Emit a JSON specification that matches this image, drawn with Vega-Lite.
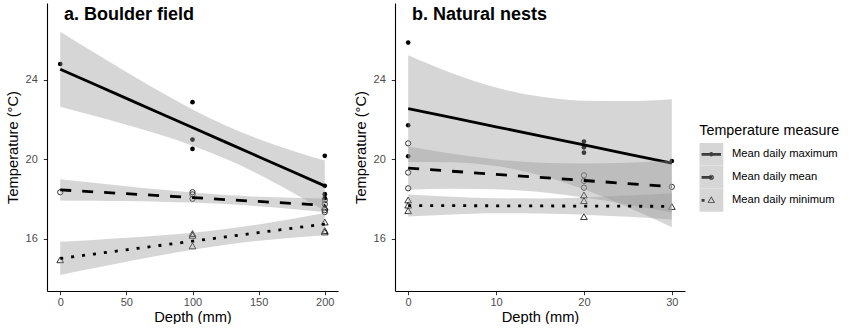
{
  "$schema": "https://vega.github.io/schema/vega-lite/v6.json",
  "padding": {"left": 5, "top": 3, "right": 165, "bottom": 0},
  "spacing": 15,
  "config": {
    "view": {"stroke": null},
    "font": "Liberation Sans",
    "axis": {"grid": false, "domainColor": "black", "domainWidth": 1.1, "tickColor": "#333333", "tickWidth": 1, "tickSize": 3.7, "labelColor": "#4d4d4d", "labelFont": "Liberation Sans", "labelFontSize": 11, "titleFont": "Liberation Sans", "titleFontSize": 14.7, "titleFontWeight": "normal", "titleColor": "black"},
    "axisX": {"labelPadding": 1.5, "titlePadding": 2},
    "axisY": {"labelPadding": 6, "titlePadding": 5},
    "title": {"font": "Liberation Sans", "fontSize": 18, "fontWeight": "bold", "anchor": "start", "frame": "group", "offset": -20.5, "baseline": "alphabetic", "dx": 17, "color": "black"}
  },
  "datasets": {
    "points": [
      {"panel": "a", "measure": "Mean daily maximum", "depth": 0, "temp": 24.8},
      {"panel": "a", "measure": "Mean daily maximum", "depth": 100, "temp": 22.88},
      {"panel": "a", "measure": "Mean daily maximum", "depth": 100, "temp": 21.0},
      {"panel": "a", "measure": "Mean daily maximum", "depth": 100, "temp": 20.53},
      {"panel": "a", "measure": "Mean daily maximum", "depth": 200, "temp": 20.18},
      {"panel": "a", "measure": "Mean daily maximum", "depth": 200, "temp": 18.67},
      {"panel": "a", "measure": "Mean daily maximum", "depth": 200, "temp": 18.25},
      {"panel": "a", "measure": "Mean daily maximum", "depth": 200, "temp": 18.05},
      {"panel": "a", "measure": "Mean daily mean", "depth": 0, "temp": 18.35},
      {"panel": "a", "measure": "Mean daily mean", "depth": 100, "temp": 18.35},
      {"panel": "a", "measure": "Mean daily mean", "depth": 100, "temp": 18.24},
      {"panel": "a", "measure": "Mean daily mean", "depth": 100, "temp": 18.02},
      {"panel": "a", "measure": "Mean daily mean", "depth": 200, "temp": 17.95},
      {"panel": "a", "measure": "Mean daily mean", "depth": 200, "temp": 17.75},
      {"panel": "a", "measure": "Mean daily mean", "depth": 200, "temp": 17.45},
      {"panel": "a", "measure": "Mean daily mean", "depth": 200, "temp": 17.35},
      {"panel": "a", "measure": "Mean daily minimum", "depth": 0, "temp": 14.95},
      {"panel": "a", "measure": "Mean daily minimum", "depth": 100, "temp": 16.27},
      {"panel": "a", "measure": "Mean daily minimum", "depth": 100, "temp": 16.18},
      {"panel": "a", "measure": "Mean daily minimum", "depth": 100, "temp": 15.65},
      {"panel": "a", "measure": "Mean daily minimum", "depth": 200, "temp": 17.6},
      {"panel": "a", "measure": "Mean daily minimum", "depth": 200, "temp": 16.85},
      {"panel": "a", "measure": "Mean daily minimum", "depth": 200, "temp": 16.42},
      {"panel": "a", "measure": "Mean daily minimum", "depth": 200, "temp": 16.35},
      {"panel": "b", "measure": "Mean daily maximum", "depth": 0, "temp": 25.88},
      {"panel": "b", "measure": "Mean daily maximum", "depth": 0, "temp": 21.72},
      {"panel": "b", "measure": "Mean daily maximum", "depth": 0, "temp": 20.16},
      {"panel": "b", "measure": "Mean daily maximum", "depth": 20, "temp": 20.9},
      {"panel": "b", "measure": "Mean daily maximum", "depth": 20, "temp": 20.61},
      {"panel": "b", "measure": "Mean daily maximum", "depth": 20, "temp": 20.34},
      {"panel": "b", "measure": "Mean daily maximum", "depth": 30, "temp": 19.92},
      {"panel": "b", "measure": "Mean daily mean", "depth": 0, "temp": 20.81},
      {"panel": "b", "measure": "Mean daily mean", "depth": 0, "temp": 19.34},
      {"panel": "b", "measure": "Mean daily mean", "depth": 0, "temp": 18.55},
      {"panel": "b", "measure": "Mean daily mean", "depth": 20, "temp": 19.2},
      {"panel": "b", "measure": "Mean daily mean", "depth": 20, "temp": 18.92},
      {"panel": "b", "measure": "Mean daily mean", "depth": 20, "temp": 18.58},
      {"panel": "b", "measure": "Mean daily mean", "depth": 30, "temp": 18.62},
      {"panel": "b", "measure": "Mean daily minimum", "depth": 0, "temp": 17.96},
      {"panel": "b", "measure": "Mean daily minimum", "depth": 0, "temp": 17.7},
      {"panel": "b", "measure": "Mean daily minimum", "depth": 0, "temp": 17.42},
      {"panel": "b", "measure": "Mean daily minimum", "depth": 20, "temp": 18.21},
      {"panel": "b", "measure": "Mean daily minimum", "depth": 20, "temp": 17.93},
      {"panel": "b", "measure": "Mean daily minimum", "depth": 20, "temp": 17.12},
      {"panel": "b", "measure": "Mean daily minimum", "depth": 30, "temp": 17.63}
    ],
    "bands": [
      {"panel": "a", "measure": "Mean daily maximum", "key": "max", "depth": 0, "lo": 22.655, "hi": 26.425, "fit": 24.54},
      {"panel": "a", "measure": "Mean daily maximum", "key": "max", "depth": 25, "lo": 22.211, "hi": 25.401, "fit": 23.806},
      {"panel": "a", "measure": "Mean daily maximum", "key": "max", "depth": 50, "lo": 21.748, "hi": 24.398, "fit": 23.073},
      {"panel": "a", "measure": "Mean daily maximum", "key": "max", "depth": 75, "lo": 21.251, "hi": 23.427, "fit": 22.339},
      {"panel": "a", "measure": "Mean daily maximum", "key": "max", "depth": 100, "lo": 20.693, "hi": 22.517, "fit": 21.605},
      {"panel": "a", "measure": "Mean daily maximum", "key": "max", "depth": 125, "lo": 20.035, "hi": 21.707, "fit": 20.871},
      {"panel": "a", "measure": "Mean daily maximum", "key": "max", "depth": 150, "lo": 19.252, "hi": 21.024, "fit": 20.138},
      {"panel": "a", "measure": "Mean daily maximum", "key": "max", "depth": 175, "lo": 18.36, "hi": 20.448, "fit": 19.404},
      {"panel": "a", "measure": "Mean daily maximum", "key": "max", "depth": 200, "lo": 17.4, "hi": 19.94, "fit": 18.67},
      {"panel": "a", "measure": "Mean daily mean", "key": "mean", "depth": 0, "lo": 17.935, "hi": 19.005, "fit": 18.47},
      {"panel": "a", "measure": "Mean daily mean", "key": "mean", "depth": 25, "lo": 17.918, "hi": 18.822, "fit": 18.37},
      {"panel": "a", "measure": "Mean daily mean", "key": "mean", "depth": 50, "lo": 17.902, "hi": 18.648, "fit": 18.275},
      {"panel": "a", "measure": "Mean daily mean", "key": "mean", "depth": 75, "lo": 17.876, "hi": 18.484, "fit": 18.18},
      {"panel": "a", "measure": "Mean daily mean", "key": "mean", "depth": 100, "lo": 17.83, "hi": 18.33, "fit": 18.08},
      {"panel": "a", "measure": "Mean daily mean", "key": "mean", "depth": 125, "lo": 17.756, "hi": 18.204, "fit": 17.98},
      {"panel": "a", "measure": "Mean daily mean", "key": "mean", "depth": 150, "lo": 17.649, "hi": 18.121, "fit": 17.885},
      {"panel": "a", "measure": "Mean daily mean", "key": "mean", "depth": 175, "lo": 17.511, "hi": 18.069, "fit": 17.79},
      {"panel": "a", "measure": "Mean daily mean", "key": "mean", "depth": 200, "lo": 17.346, "hi": 18.034, "fit": 17.69},
      {"panel": "a", "measure": "Mean daily minimum", "key": "min", "depth": 0, "lo": 14.185, "hi": 15.855, "fit": 15.02},
      {"panel": "a", "measure": "Mean daily minimum", "key": "min", "depth": 25, "lo": 14.523, "hi": 15.949, "fit": 15.236},
      {"panel": "a", "measure": "Mean daily minimum", "key": "min", "depth": 50, "lo": 14.852, "hi": 16.054, "fit": 15.453},
      {"panel": "a", "measure": "Mean daily minimum", "key": "min", "depth": 75, "lo": 15.166, "hi": 16.172, "fit": 15.669},
      {"panel": "a", "measure": "Mean daily minimum", "key": "min", "depth": 100, "lo": 15.455, "hi": 16.315, "fit": 15.885},
      {"panel": "a", "measure": "Mean daily minimum", "key": "min", "depth": 125, "lo": 15.705, "hi": 16.497, "fit": 16.101},
      {"panel": "a", "measure": "Mean daily minimum", "key": "min", "depth": 150, "lo": 15.907, "hi": 16.729, "fit": 16.318},
      {"panel": "a", "measure": "Mean daily minimum", "key": "min", "depth": 175, "lo": 16.064, "hi": 17.004, "fit": 16.534},
      {"panel": "a", "measure": "Mean daily minimum", "key": "min", "depth": 200, "lo": 16.191, "hi": 17.309, "fit": 16.75},
      {"panel": "b", "measure": "Mean daily maximum", "key": "max", "depth": 0, "lo": 19.875, "hi": 25.245, "fit": 22.56},
      {"panel": "b", "measure": "Mean daily maximum", "key": "max", "depth": 5, "lo": 19.859, "hi": 24.341, "fit": 22.1},
      {"panel": "b", "measure": "Mean daily maximum", "key": "max", "depth": 10, "lo": 19.664, "hi": 23.622, "fit": 21.643},
      {"panel": "b", "measure": "Mean daily maximum", "key": "max", "depth": 15, "lo": 19.209, "hi": 23.161, "fit": 21.185},
      {"panel": "b", "measure": "Mean daily maximum", "key": "max", "depth": 20, "lo": 18.496, "hi": 22.956, "fit": 20.726},
      {"panel": "b", "measure": "Mean daily maximum", "key": "max", "depth": 25, "lo": 17.597, "hi": 22.939, "fit": 20.268},
      {"panel": "b", "measure": "Mean daily maximum", "key": "max", "depth": 30, "lo": 16.589, "hi": 23.031, "fit": 19.81},
      {"panel": "b", "measure": "Mean daily mean", "key": "mean", "depth": 0, "lo": 18.475, "hi": 20.645, "fit": 19.56},
      {"panel": "b", "measure": "Mean daily mean", "key": "mean", "depth": 5, "lo": 18.527, "hi": 20.283, "fit": 19.405},
      {"panel": "b", "measure": "Mean daily mean", "key": "mean", "depth": 10, "lo": 18.502, "hi": 19.998, "fit": 19.25},
      {"panel": "b", "measure": "Mean daily mean", "key": "mean", "depth": 15, "lo": 18.355, "hi": 19.835, "fit": 19.095},
      {"panel": "b", "measure": "Mean daily mean", "key": "mean", "depth": 20, "lo": 18.086, "hi": 19.794, "fit": 18.94},
      {"panel": "b", "measure": "Mean daily mean", "key": "mean", "depth": 25, "lo": 17.733, "hi": 19.837, "fit": 18.785},
      {"panel": "b", "measure": "Mean daily mean", "key": "mean", "depth": 30, "lo": 17.333, "hi": 19.927, "fit": 18.63},
      {"panel": "b", "measure": "Mean daily minimum", "key": "min", "depth": 0, "lo": 17.13, "hi": 18.23, "fit": 17.68},
      {"panel": "b", "measure": "Mean daily minimum", "key": "min", "depth": 5, "lo": 17.228, "hi": 18.118, "fit": 17.673},
      {"panel": "b", "measure": "Mean daily minimum", "key": "min", "depth": 10, "lo": 17.288, "hi": 18.046, "fit": 17.667},
      {"panel": "b", "measure": "Mean daily minimum", "key": "min", "depth": 15, "lo": 17.285, "hi": 18.035, "fit": 17.66},
      {"panel": "b", "measure": "Mean daily minimum", "key": "min", "depth": 20, "lo": 17.22, "hi": 18.086, "fit": 17.653},
      {"panel": "b", "measure": "Mean daily minimum", "key": "min", "depth": 25, "lo": 17.114, "hi": 18.18, "fit": 17.647},
      {"panel": "b", "measure": "Mean daily minimum", "key": "min", "depth": 30, "lo": 16.983, "hi": 18.297, "fit": 17.64}
    ]
  },
  "hconcat": [
    {
      "width": 291,
      "height": 288,
      "title": "a. Boulder field",
      "layer": [
        {
          "data": {"name": "points"},
          "transform": [{"filter": "datum.panel === 'legend-only'"}],
          "mark": {"type": "point", "filled": true, "color": "black", "strokeWidth": 0, "opacity": 1},
          "encoding": {
            "x": {"field": "depth", "type": "quantitative", "title": "Depth (mm)", "scale": {"domain": [-10, 210], "nice": false, "zero": false}, "axis": {"values": [0, 50, 100, 150, 200]}},
            "y": {"field": "temp", "type": "quantitative", "title": "Temperature (°C)", "scale": {"domain": [13.38, 27.87], "nice": false, "zero": false}, "axis": {"values": [16, 20, 24]}},
            "shape": {"field": "measure", "type": "nominal",
              "scale": {"domain": ["Mean daily maximum", "Mean daily mean", "Mean daily minimum"],
                "range": ["M-0.81,-0.117H0.81V0.117H-0.81ZM0.19,0A0.19,0.19,0,1,1,-0.19,0A0.19,0.19,0,1,1,0.19,0Z",
                          "M-0.81,-0.117H0.107V0.117H-0.81ZM0.225,0A0.225,0.225,0,1,1,-0.225,0A0.225,0.225,0,1,1,0.225,0ZM0.155,0A0.155,0.155,0,1,0,-0.155,0A0.155,0.155,0,1,0,0.155,0Z",
                          "M-0.81,-0.117H-0.56V0.117H-0.81ZM0,-0.35L0.317,0.21L-0.317,0.21ZM0,-0.225L-0.2,0.14L0.2,0.14Z"]},
              "legend": {"title": "Temperature measure", "orient": "none", "legendX": 652.3, "legendY": 120.7, "padding": 0, "titleFont": "Liberation Sans", "titleFontSize": 14.3, "titleFontWeight": "normal", "titleColor": "black", "titlePadding": 4.9, "labelFont": "Liberation Sans", "labelFontSize": 11.2, "labelColor": "black", "labelOffset": 8.7, "symbolSize": 576, "symbolFillColor": "black", "symbolStrokeWidth": 0, "symbolStrokeColor": "transparent", "symbolOpacity": 1, "rowPadding": 0, "clipHeight": 22.85,
                "encode": {"title": {"update": {"dx": {"value": 3}}}}}}
          }
        },
        {
          "data": {"name": "points"},
          "transform": [{"filter": "datum.panel === 'a' && datum.measure === 'Mean daily maximum'"}],
          "mark": {"type": "point", "shape": "circle", "filled": true, "color": "black", "size": 22, "opacity": 1},
          "encoding": {
            "x": {"field": "depth", "type": "quantitative", "title": "Depth (mm)"},
            "y": {"field": "temp", "type": "quantitative", "title": "Temperature (°C)"}
          }
        },
        {
          "data": {"name": "points"},
          "transform": [{"filter": "datum.panel === 'a' && datum.measure === 'Mean daily mean'"}],
          "mark": {"type": "point", "shape": "circle", "filled": false, "color": "black", "strokeWidth": 0.8, "size": 28, "opacity": 1},
          "encoding": {
            "x": {"field": "depth", "type": "quantitative", "title": "Depth (mm)"},
            "y": {"field": "temp", "type": "quantitative", "title": "Temperature (°C)"}
          }
        },
        {
          "data": {"name": "points"},
          "transform": [{"filter": "datum.panel === 'a' && datum.measure === 'Mean daily minimum'"}],
          "mark": {"type": "point", "shape": "triangle-up", "filled": false, "color": "black", "strokeWidth": 0.8, "size": 45, "opacity": 1},
          "encoding": {
            "x": {"field": "depth", "type": "quantitative", "title": "Depth (mm)"},
            "y": {"field": "temp", "type": "quantitative", "title": "Temperature (°C)"}
          }
        },
        {
          "data": {"name": "bands"},
          "transform": [{"filter": "datum.panel === 'a' && datum.measure === 'Mean daily maximum'"}],
          "mark": {"type": "area", "opacity": 0.4, "interpolate": "monotone"},
          "encoding": {"x": {"field": "depth", "type": "quantitative", "title": "Depth (mm)"}, "y": {"field": "lo", "type": "quantitative", "title": "Temperature (°C)"}, "y2": {"field": "hi"},
            "fill": {"field": "key", "type": "nominal", "scale": {"domain": ["max", "mean", "min"], "range": ["#999999", "#999999", "#999999"]},
              "legend": {"title": null, "orient": "none", "legendX": 652.3, "legendY": 139.9, "padding": 0, "symbolType": "square", "symbolSize": 576, "symbolOpacity": 0.4, "symbolStrokeWidth": 0, "symbolStrokeColor": "transparent", "labelExpr": "''", "labelColor": "transparent", "labelFontSize": 11.2, "labelOffset": 8.7, "rowPadding": 0, "clipHeight": 22.85}}}
        },
        {
          "data": {"name": "bands"},
          "transform": [{"filter": "datum.panel === 'a' && datum.measure === 'Mean daily maximum'"}],
          "mark": {"type": "line", "color": "black", "strokeWidth": 2.8},
          "encoding": {"x": {"field": "depth", "type": "quantitative", "title": "Depth (mm)"}, "y": {"field": "fit", "type": "quantitative", "title": "Temperature (°C)"}}
        },
        {
          "data": {"name": "bands"},
          "transform": [{"filter": "datum.panel === 'a' && datum.measure === 'Mean daily mean'"}],
          "mark": {"type": "area", "opacity": 0.4, "interpolate": "monotone"},
          "encoding": {"x": {"field": "depth", "type": "quantitative", "title": "Depth (mm)"}, "y": {"field": "lo", "type": "quantitative", "title": "Temperature (°C)"}, "y2": {"field": "hi"}, "fill": {"field": "key", "type": "nominal"}}
        },
        {
          "data": {"name": "bands"},
          "transform": [{"filter": "datum.panel === 'a' && datum.measure === 'Mean daily mean'"}],
          "mark": {"type": "line", "color": "black", "strokeWidth": 2.8, "strokeDash": [11, 11]},
          "encoding": {"x": {"field": "depth", "type": "quantitative", "title": "Depth (mm)"}, "y": {"field": "fit", "type": "quantitative", "title": "Temperature (°C)"}}
        },
        {
          "data": {"name": "bands"},
          "transform": [{"filter": "datum.panel === 'a' && datum.measure === 'Mean daily minimum'"}],
          "mark": {"type": "area", "opacity": 0.4, "interpolate": "monotone"},
          "encoding": {"x": {"field": "depth", "type": "quantitative", "title": "Depth (mm)"}, "y": {"field": "lo", "type": "quantitative", "title": "Temperature (°C)"}, "y2": {"field": "hi"}, "fill": {"field": "key", "type": "nominal"}}
        },
        {
          "data": {"name": "bands"},
          "transform": [{"filter": "datum.panel === 'a' && datum.measure === 'Mean daily minimum'"}],
          "mark": {"type": "line", "color": "black", "strokeWidth": 2.8, "strokeDash": [3, 8]},
          "encoding": {"x": {"field": "depth", "type": "quantitative", "title": "Depth (mm)"}, "y": {"field": "fit", "type": "quantitative", "title": "Temperature (°C)"}}
        }
      ]
    },
    {
      "width": 290,
      "height": 288,
      "title": "b. Natural nests",
      "layer": [
        {
          "data": {"name": "points"},
          "transform": [{"filter": "datum.panel === 'b' && datum.measure === 'Mean daily maximum'"}],
          "mark": {"type": "point", "shape": "circle", "filled": true, "color": "black", "size": 22, "opacity": 1},
          "encoding": {
            "x": {"field": "depth", "type": "quantitative", "title": "Depth (mm)", "scale": {"domain": [-1.5, 31.5], "nice": false, "zero": false}, "axis": {"values": [0, 10, 20, 30]}},
            "y": {"field": "temp", "type": "quantitative", "title": "Temperature (°C)", "scale": {"domain": [13.38, 27.87], "nice": false, "zero": false}, "axis": {"values": [16, 20, 24]}}
          }
        },
        {
          "data": {"name": "points"},
          "transform": [{"filter": "datum.panel === 'b' && datum.measure === 'Mean daily mean'"}],
          "mark": {"type": "point", "shape": "circle", "filled": false, "color": "black", "strokeWidth": 0.8, "size": 28, "opacity": 1},
          "encoding": {
            "x": {"field": "depth", "type": "quantitative", "title": "Depth (mm)"},
            "y": {"field": "temp", "type": "quantitative", "title": "Temperature (°C)"}
          }
        },
        {
          "data": {"name": "points"},
          "transform": [{"filter": "datum.panel === 'b' && datum.measure === 'Mean daily minimum'"}],
          "mark": {"type": "point", "shape": "triangle-up", "filled": false, "color": "black", "strokeWidth": 0.8, "size": 45, "opacity": 1},
          "encoding": {
            "x": {"field": "depth", "type": "quantitative", "title": "Depth (mm)"},
            "y": {"field": "temp", "type": "quantitative", "title": "Temperature (°C)"}
          }
        },
        {
          "data": {"name": "bands"},
          "transform": [{"filter": "datum.panel === 'b' && datum.measure === 'Mean daily maximum'"}],
          "mark": {"type": "area", "opacity": 0.4, "interpolate": "monotone"},
          "encoding": {"x": {"field": "depth", "type": "quantitative", "title": "Depth (mm)"}, "y": {"field": "lo", "type": "quantitative", "title": "Temperature (°C)"}, "y2": {"field": "hi"}, "fill": {"field": "key", "type": "nominal"}}
        },
        {
          "data": {"name": "bands"},
          "transform": [{"filter": "datum.panel === 'b' && datum.measure === 'Mean daily maximum'"}],
          "mark": {"type": "line", "color": "black", "strokeWidth": 2.8},
          "encoding": {"x": {"field": "depth", "type": "quantitative", "title": "Depth (mm)"}, "y": {"field": "fit", "type": "quantitative", "title": "Temperature (°C)"}}
        },
        {
          "data": {"name": "bands"},
          "transform": [{"filter": "datum.panel === 'b' && datum.measure === 'Mean daily mean'"}],
          "mark": {"type": "area", "opacity": 0.4, "interpolate": "monotone"},
          "encoding": {"x": {"field": "depth", "type": "quantitative", "title": "Depth (mm)"}, "y": {"field": "lo", "type": "quantitative", "title": "Temperature (°C)"}, "y2": {"field": "hi"}, "fill": {"field": "key", "type": "nominal"}}
        },
        {
          "data": {"name": "bands"},
          "transform": [{"filter": "datum.panel === 'b' && datum.measure === 'Mean daily mean'"}],
          "mark": {"type": "line", "color": "black", "strokeWidth": 2.8, "strokeDash": [11, 11]},
          "encoding": {"x": {"field": "depth", "type": "quantitative", "title": "Depth (mm)"}, "y": {"field": "fit", "type": "quantitative", "title": "Temperature (°C)"}}
        },
        {
          "data": {"name": "bands"},
          "transform": [{"filter": "datum.panel === 'b' && datum.measure === 'Mean daily minimum'"}],
          "mark": {"type": "area", "opacity": 0.4, "interpolate": "monotone"},
          "encoding": {"x": {"field": "depth", "type": "quantitative", "title": "Depth (mm)"}, "y": {"field": "lo", "type": "quantitative", "title": "Temperature (°C)"}, "y2": {"field": "hi"}, "fill": {"field": "key", "type": "nominal"}}
        },
        {
          "data": {"name": "bands"},
          "transform": [{"filter": "datum.panel === 'b' && datum.measure === 'Mean daily minimum'"}],
          "mark": {"type": "line", "color": "black", "strokeWidth": 2.8, "strokeDash": [3, 8]},
          "encoding": {"x": {"field": "depth", "type": "quantitative", "title": "Depth (mm)"}, "y": {"field": "fit", "type": "quantitative", "title": "Temperature (°C)"}}
        }
      ]
    }
  ]
}
